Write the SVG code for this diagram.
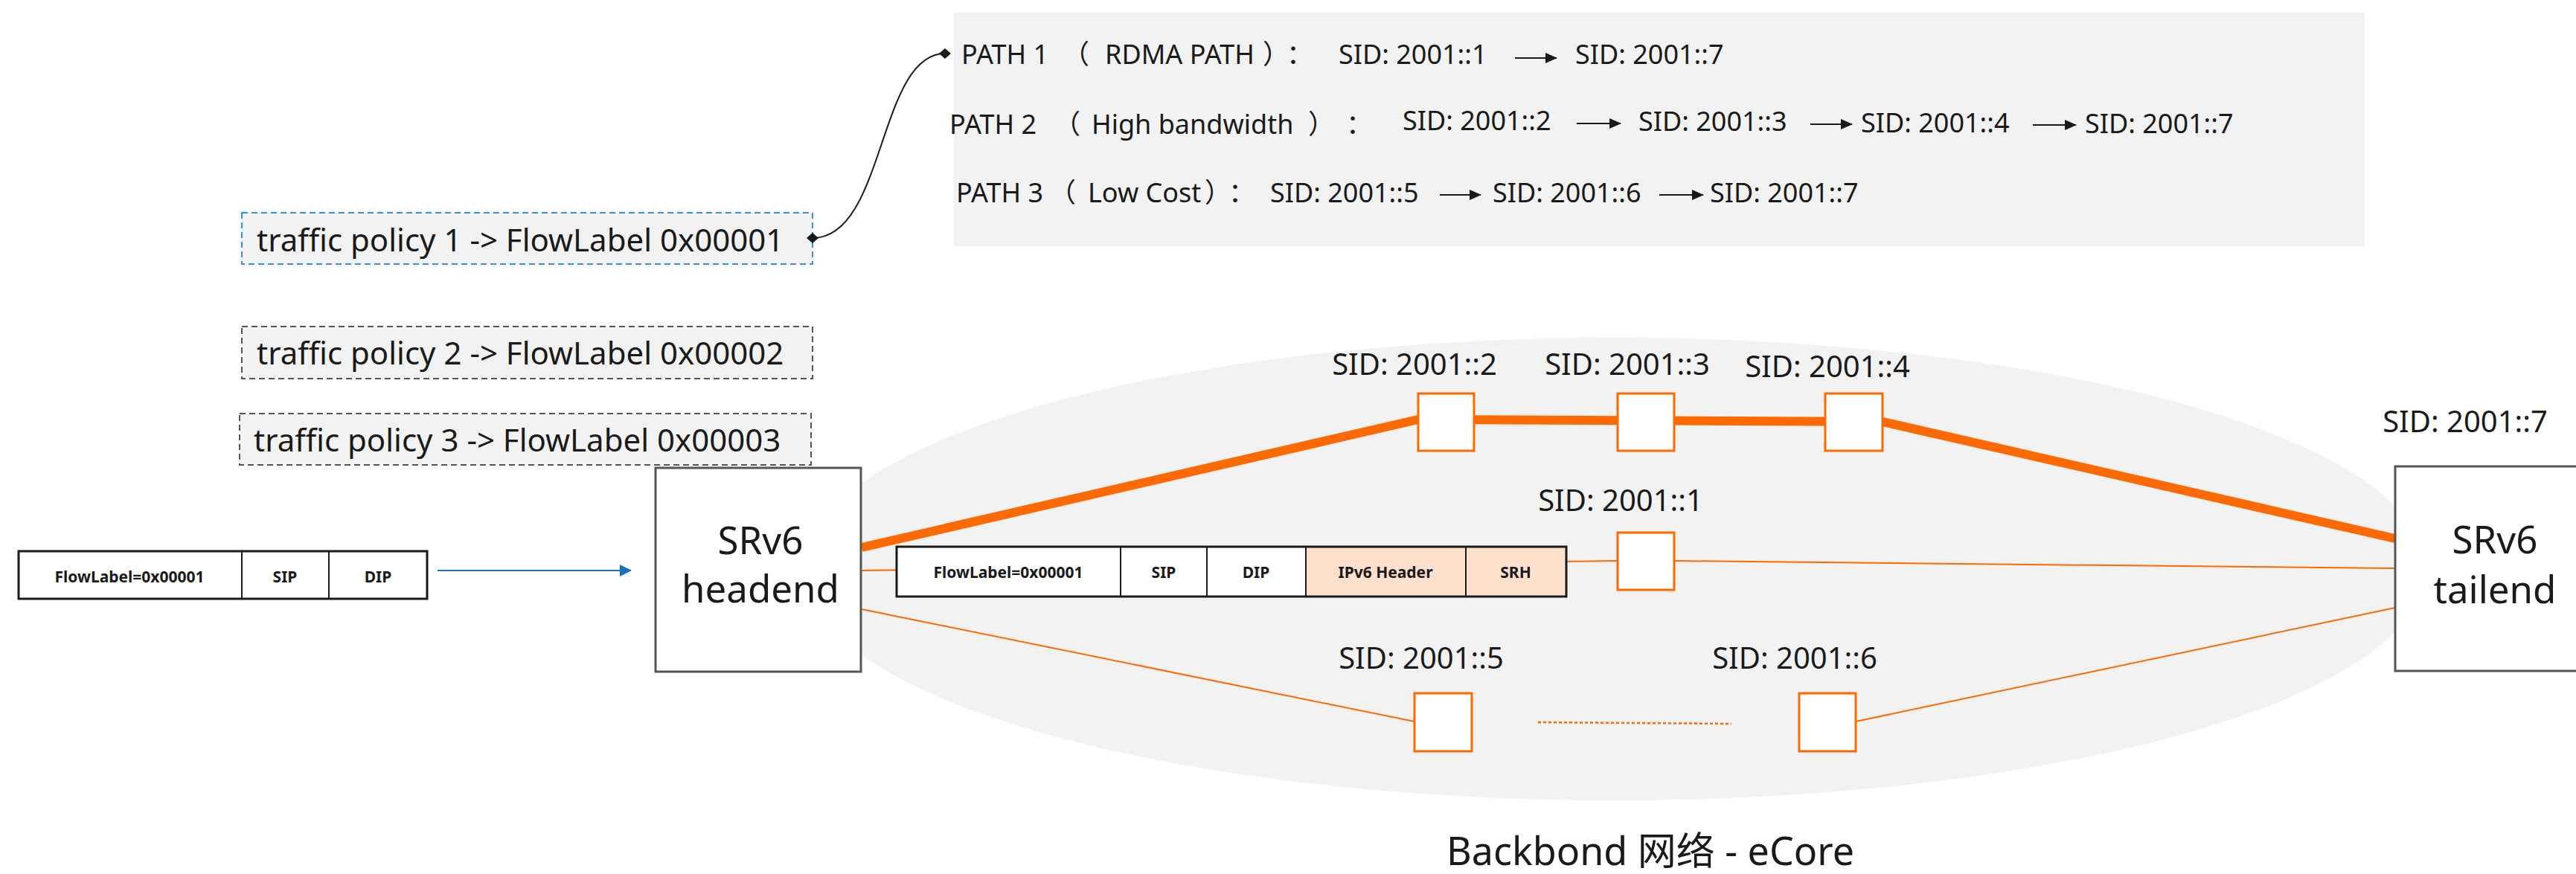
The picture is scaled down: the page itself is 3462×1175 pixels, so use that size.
<svg xmlns="http://www.w3.org/2000/svg" width="3462" height="1175" viewBox="0 0 3462 1175">
<defs>
<style>
text{font-family:"Noto Sans","Noto Sans CJK SC",sans-serif;fill:#1a1a1a}
.row{font-size:36px}
.pol{font-size:42px}
.sid{font-size:40px;text-anchor:middle}
.big{font-size:51px;text-anchor:middle}
.pk{font-size:21px;font-weight:bold;text-anchor:middle}
.thick{stroke:#ff6a00;stroke-width:12;fill:none}
.thin{stroke:#ff6a00;stroke-width:2;fill:none}
.sq{fill:#fff;stroke:#ff6a00;stroke-width:3}
.rt{fill:#fff;stroke:#555;stroke-width:3}
.ar{stroke:#1a1a1a;stroke-width:2;fill:none}
.cell{stroke:#1a1a1a;stroke-width:2}
</style>
<marker id="dia" markerUnits="userSpaceOnUse" markerWidth="18" markerHeight="18" refX="9" refY="9" orient="auto">
<path d="M1,9 L9,2 L17,9 L9,16 Z" fill="#1a1a1a"/>
</marker>
<marker id="tri" markerUnits="userSpaceOnUse" markerWidth="16" markerHeight="16" refX="15" refY="8" orient="auto">
<path d="M0,1 L16,8 L0,15 Z" fill="#1a1a1a"/>
</marker>
<marker id="btri" markerUnits="userSpaceOnUse" markerWidth="16" markerHeight="18" refX="15" refY="9" orient="auto">
<path d="M0,1 L16,9 L0,17 Z" fill="#1a6fc0"/>
</marker>
</defs>
<rect width="3462" height="1175" fill="#fff"/>

<g id="network">
<ellipse cx="2170" cy="765" rx="1090" ry="311" fill="#f2f2f2"/>
</g>

<g id="paths-panel">
<rect x="1282" y="17" width="1896" height="314" fill="#f2f2f2"/>
<text class="row" x="1292" y="86">PATH 1</text>
<text class="row" x="1428" y="86">（</text>
<text class="row" x="1485" y="86">RDMA PATH</text>
<text class="row" x="1697" y="86">）</text>
<text class="row" x="1729" y="86">：</text>
<text class="row" x="1799" y="86">SID: 2001::1</text>
<text class="row" x="2117" y="86">SID: 2001::7</text>

<text class="row" x="1276" y="180">PATH 2</text>
<text class="row" x="1416" y="180">（</text>
<text class="row" x="1467" y="180">High bandwidth</text>
<text class="row" x="1758" y="180">）</text>
<text class="row" x="1809" y="180">：</text>
<text class="row" x="1885" y="175">SID: 2001::2</text>
<text class="row" x="2202" y="176">SID: 2001::3</text>
<text class="row" x="2501" y="178">SID: 2001::4</text>
<text class="row" x="2802" y="179">SID: 2001::7</text>

<text class="row" x="1285" y="272">PATH 3</text>
<text class="row" x="1410" y="272">（</text>
<text class="row" x="1462" y="272">Low Cost</text>
<text class="row" x="1619" y="272">）</text>
<text class="row" x="1651" y="272">：</text>
<text class="row" x="1707" y="272">SID: 2001::5</text>
<text class="row" x="2006" y="272">SID: 2001::6</text>
<text class="row" x="2298" y="272">SID: 2001::7</text>
</g>

<g id="policy1">
<rect x="325" y="286" width="767" height="69" fill="#f2f2f2" stroke="#3a8fd8" stroke-width="2" stroke-dasharray="8 5"/>
<text class="pol" x="345" y="338">traffic policy 1 -&gt; FlowLabel 0x00001</text>
</g>
<g id="policy2">
<rect x="325" y="439" width="767" height="70" fill="#f2f2f2" stroke="#555" stroke-width="2" stroke-dasharray="8 5"/>
<text class="pol" x="345" y="490">traffic policy 2 -&gt; FlowLabel 0x00002</text>
</g>
<g id="policy3">
<rect x="322" y="556" width="768" height="69" fill="#f2f2f2" stroke="#555" stroke-width="2" stroke-dasharray="8 5"/>
<text class="pol" x="341" y="607">traffic policy 3 -&gt; FlowLabel 0x00003</text>
</g>

<g id="connectors">
<path d="M1092,320 C1190,320 1180,72 1270,72" stroke="#1a1a1a" stroke-width="2" fill="none" marker-start="url(#dia)" marker-end="url(#dia)"/>
<line class="ar" x1="2036" y1="78" x2="2092" y2="78" marker-end="url(#tri)"/>
<line class="ar" x1="2119" y1="166" x2="2178" y2="166" marker-end="url(#tri)"/>
<line class="ar" x1="2433" y1="167" x2="2489" y2="167" marker-end="url(#tri)"/>
<line class="ar" x1="2732" y1="168" x2="2790" y2="168" marker-end="url(#tri)"/>
<line class="ar" x1="1935" y1="262" x2="1990" y2="262" marker-end="url(#tri)"/>
<line class="ar" x1="2230" y1="262" x2="2289" y2="262" marker-end="url(#tri)"/>
<line x1="588" y1="767" x2="848" y2="767" stroke="#1a6fc0" stroke-width="2" marker-end="url(#btri)"/>
<path class="thick" d="M1158,736 L1906,564 L2530,567 L3219,724"/>
<path class="thin" d="M1157,767 L2174,754"/>
<path class="thin" d="M2250,754 L3219,764"/>
<path class="thin" d="M1158,819 L1901,970"/>
<path class="thin" d="M2494,970 L3219,817"/>
<line x1="2067" y1="971" x2="2327" y2="973" stroke="#ff6a00" stroke-width="2.5" stroke-dasharray="4 3"/>
</g>

<g id="packet-in">
<rect x="25" y="741" width="549" height="64" fill="#fff" stroke="#1a1a1a" stroke-width="3"/>
<line class="cell" x1="325" y1="741" x2="325" y2="805"/>
<line class="cell" x1="442" y1="741" x2="442" y2="805"/>
<text class="pk" x="174" y="783">FlowLabel=0x00001</text>
<text class="pk" x="383" y="783">SIP</text>
<text class="pk" x="508" y="783">DIP</text>
</g>

<g id="headend">
<rect class="rt" x="881" y="629" width="276" height="274"/>
<text class="big" x="1022" y="745">SRv6</text>
<text class="big" x="1022" y="810">headend</text>
</g>

<g id="tailend">
<rect class="rt" x="3219" y="627" width="270" height="275"/>
<text class="big" x="3353" y="744">SRv6</text>
<text class="big" x="3353" y="811">tailend</text>
</g>

<g id="packet-srv6">
<rect x="1205" y="735" width="900" height="67" fill="#fff"/>
<rect x="1755" y="735" width="350" height="67" fill="#ffe0cc"/>
<rect x="1205" y="735" width="900" height="67" fill="none" stroke="#1a1a1a" stroke-width="3"/>
<line class="cell" x1="1506" y1="735" x2="1506" y2="802"/>
<line class="cell" x1="1622" y1="735" x2="1622" y2="802"/>
<line class="cell" x1="1755" y1="735" x2="1755" y2="802"/>
<line class="cell" x1="1970" y1="735" x2="1970" y2="802"/>
<text class="pk" x="1355" y="777">FlowLabel=0x00001</text>
<text class="pk" x="1564" y="777">SIP</text>
<text class="pk" x="1688" y="777">DIP</text>
<text class="pk" x="1862" y="777">IPv6 Header</text>
<text class="pk" x="2037" y="777">SRH</text>
</g>

<g id="sid2"><rect class="sq" x="1906" y="529" width="75" height="77"/><text class="sid" x="1901" y="504">SID: 2001::2</text></g>
<g id="sid3"><rect class="sq" x="2174" y="529" width="76" height="77"/><text class="sid" x="2187" y="504">SID: 2001::3</text></g>
<g id="sid4"><rect class="sq" x="2453" y="529" width="77" height="77"/><text class="sid" x="2456" y="507">SID: 2001::4</text></g>
<g id="sid1"><rect class="sq" x="2174" y="716" width="76" height="77"/><text class="sid" x="2178" y="687">SID: 2001::1</text></g>
<g id="sid5"><rect class="sq" x="1901" y="932" width="77" height="78"/><text class="sid" x="1910" y="899">SID: 2001::5</text></g>
<g id="sid6"><rect class="sq" x="2418" y="932" width="76" height="78"/><text class="sid" x="2412" y="899">SID: 2001::6</text></g>
<g id="sid7"><text class="sid" x="3313" y="581">SID: 2001::7</text></g>

<g id="title"><text x="2218" y="1163" font-size="52" text-anchor="middle">Backbond 网络 - eCore</text></g>
</svg>
